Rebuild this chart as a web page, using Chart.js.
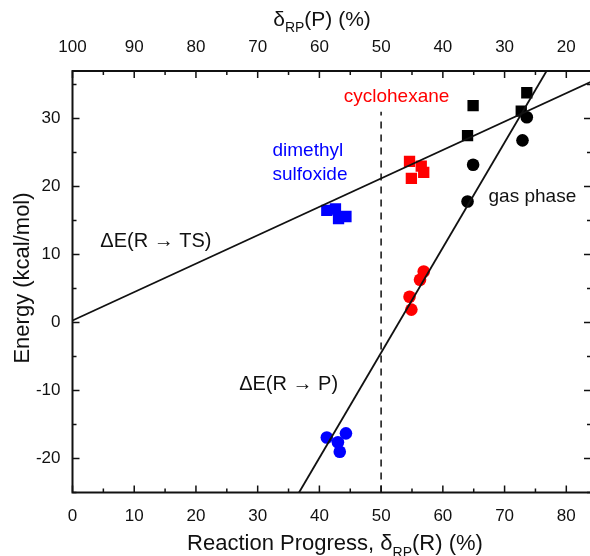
<!DOCTYPE html>
<html>
<head>
<meta charset="utf-8">
<script src="https://cdn.jsdelivr.net/npm/chart.js@4.4.1/dist/chart.umd.min.js"></script>
<style>
  html, body { margin: 0; padding: 0; background: #fff; overflow: hidden; width: 590px; height: 556px; }
  #wrap { width: 600px; height: 556px; }
</style>
</head>
<body>
<div id="wrap"><canvas id="c" width="600" height="556"></canvas></div>
<script>
// ---- data ----
const X_MIN = 0, X_MAX = 84;
const Y_MIN = -25, Y_MAX = 37;

// transition state energies (squares)
const tsGas = [[73.6, 33.8], [64.9, 31.9], [72.7, 31.1], [64.0, 27.5]];
const tsCyclohexane = [[54.6, 23.7], [56.5, 23.0], [56.9, 22.1], [54.9, 21.2]];
const tsDmso = [[41.2, 16.5], [42.6, 16.7], [44.3, 15.6], [43.1, 15.3]];

// reaction energies (circles)
const rpGas = [[73.6, 30.2], [72.9, 26.8], [64.9, 23.2], [64.0, 17.8]];
const rpCyclohexane = [[56.9, 7.5], [56.3, 6.3], [54.6, 3.8], [54.9, 1.9]];
const rpDmso = [[44.3, -16.3], [41.2, -16.9], [43.0, -17.6], [43.3, -19.0]];

// fitted lines (end points)
const fitTs = [[0, 0.3], [84, 35.4]];
const fitRp = [[36.7, -25], [76.8, 37]];
const midLine = [[50, -25], [50, 31]];

const xTicks = [0, 10, 20, 30, 40, 50, 60, 70, 80];
const x2Ticks = [20, 30, 40, 50, 60, 70, 80, 90, 100];
const yTicks = [-20, -10, 0, 10, 20, 30];

const FONT = "'Liberation Sans', Arial, sans-serif";
const INK = '#111';

const pts = arr => arr.map(([x, y]) => ({ x, y }));

function scatterSet(data, color, style, radius) {
  return {
    data: pts(data),
    backgroundColor: color,
    borderColor: color,
    borderWidth: 0,
    pointStyle: style,
    pointRadius: radius,
    showLine: false
  };
}

function lineSet(data, dash) {
  return {
    data: pts(data),
    showLine: true,
    borderColor: dash ? '#333' : INK,
    borderWidth: 1.8,
    borderDash: dash || [],
    pointRadius: 0,
    fill: false
  };
}

// draw text with subscript runs: parts = [[text, isSub], ...]
function richText(ctx, parts, cx, y, size, rotate) {
  ctx.save();
  const subSize = Math.round(size * 0.65);
  let total = 0;
  parts.forEach(([t, sub]) => {
    ctx.font = (sub ? subSize : size) + 'px ' + FONT;
    total += ctx.measureText(t).width;
  });
  ctx.translate(cx, y);
  if (rotate) ctx.rotate(-Math.PI / 2);
  let x = -total / 2;
  ctx.textBaseline = 'alphabetic';
  ctx.textAlign = 'left';
  ctx.fillStyle = INK;
  parts.forEach(([t, sub]) => {
    ctx.font = (sub ? subSize : size) + 'px ' + FONT;
    ctx.fillText(t, x, sub ? size * 0.3 : 0);
    x += ctx.measureText(t).width;
  });
  ctx.restore();
}

const labels = [
  { text: 'cyclohexane', x: 52.5, y: 33.2, color: '#f00', size: 19, align: 'center' },
  { text: 'dimethyl', x: 32.4, y: 25.3, color: '#00f', size: 19, align: 'left' },
  { text: 'sulfoxide', x: 32.4, y: 21.7, color: '#00f', size: 19, align: 'left' },
  { text: 'gas phase', x: 67.4, y: 18.5, color: INK, size: 19, align: 'left' },
  { text: 'ΔE(R → TS)', x: 4.5, y: 11.9, color: INK, size: 20, align: 'left' },
  { text: 'ΔE(R → P)', x: 27.0, y: -9.1, color: INK, size: 20, align: 'left' }
];

const decorations = {
  id: 'decorations',
  afterDatasetsDraw(chart) {
    const { ctx, chartArea: a, scales } = chart;
    const sx = scales.x, sy = scales.y;

    // inward ticks on all four sides
    ctx.save();
    ctx.strokeStyle = INK;
    ctx.lineWidth = 1.5;
    ctx.beginPath();
    for (let v = X_MIN; v <= X_MAX; v += 5) {
      const px = sx.getPixelForValue(v);
      const len = v % 10 === 0 ? 7 : 4;
      ctx.moveTo(px, a.bottom); ctx.lineTo(px, a.bottom - len);
      ctx.moveTo(px, a.top); ctx.lineTo(px, a.top + len);
    }
    for (let v = Y_MIN; v <= Y_MAX; v += 5) {
      const py = sy.getPixelForValue(v);
      const len = v % 10 === 0 ? 7 : 4;
      ctx.moveTo(a.left, py); ctx.lineTo(a.left + len, py);
      ctx.moveTo(a.right, py); ctx.lineTo(a.right - len, py);
    }
    ctx.stroke();

    // frame
    ctx.lineWidth = 2;
    ctx.strokeRect(a.left, a.top, a.right - a.left, a.bottom - a.top);
    ctx.restore();

    // annotations
    ctx.save();
    ctx.textBaseline = 'middle';
    labels.forEach(l => {
      ctx.font = l.size + 'px ' + FONT;
      ctx.fillStyle = l.color;
      ctx.textAlign = l.align;
      ctx.fillText(l.text, sx.getPixelForValue(l.x), sy.getPixelForValue(l.y));
    });
    ctx.restore();

    // axis titles
    richText(ctx, [['δ', false], ['RP', true], ['(P) (%)', false]], 322, 26, 21);
    richText(ctx, [['Reaction Progress, δ', false], ['RP', true], ['(R) (%)', false]], 335, 550, 22);
    richText(ctx, [['Energy (kcal/mol)', false]], 29, 278, 22, true);
  }
};

const tickFont = { family: FONT, size: 17 };

new Chart(document.getElementById('c'), {
  type: 'scatter',
  data: {
    datasets: [
      lineSet(fitTs),
      lineSet(fitRp),
      lineSet(midLine, [7, 6]),
      scatterSet(tsGas, '#000', 'rect', 8),
      scatterSet(tsCyclohexane, '#f00', 'rect', 8),
      scatterSet(tsDmso, '#00f', 'rect', 8),
      scatterSet(rpGas, '#000', 'circle', 6.3),
      scatterSet(rpCyclohexane, '#f00', 'circle', 6.3),
      scatterSet(rpDmso, '#00f', 'circle', 6.3)
    ]
  },
  options: {
    responsive: false,
    animation: false,
    layout: { padding: 0 },
    plugins: { legend: { display: false }, tooltip: { enabled: false } },
    scales: {
      x: {
        type: 'linear', position: 'bottom', min: X_MIN, max: X_MAX,
        grid: { display: false, drawTicks: false },
        border: { display: false },
        afterBuildTicks: s => { s.ticks = xTicks.map(v => ({ value: v })); },
        afterFit: s => { s.height = 556 - 492.5; },
        ticks: { font: tickFont, color: INK, padding: 14, maxRotation: 0, autoSkip: false }
      },
      x2: {
        type: 'linear', position: 'top', min: 100 - X_MAX, max: 100, reverse: true,
        grid: { display: false, drawTicks: false },
        border: { display: false },
        afterBuildTicks: s => { s.ticks = x2Ticks.map(v => ({ value: v })); },
        afterFit: s => { s.height = 71; },
        ticks: { font: tickFont, color: INK, padding: 13, maxRotation: 0, autoSkip: false }
      },
      y: {
        type: 'linear', position: 'left', min: Y_MIN, max: Y_MAX,
        grid: { display: false, drawTicks: false },
        border: { display: false },
        afterBuildTicks: s => { s.ticks = yTicks.map(v => ({ value: v })); },
        afterFit: s => { s.width = 72.5; },
        ticks: { font: tickFont, color: INK, padding: 12 }
      },
      y2: {
        type: 'linear', position: 'right', min: Y_MIN, max: Y_MAX,
        grid: { display: false, drawTicks: false },
        border: { display: false },
        ticks: { display: false },
        afterFit: s => { s.width = 600 - 591; }
      }
    }
  },
  plugins: [decorations]
});
</script>
</body>
</html>
